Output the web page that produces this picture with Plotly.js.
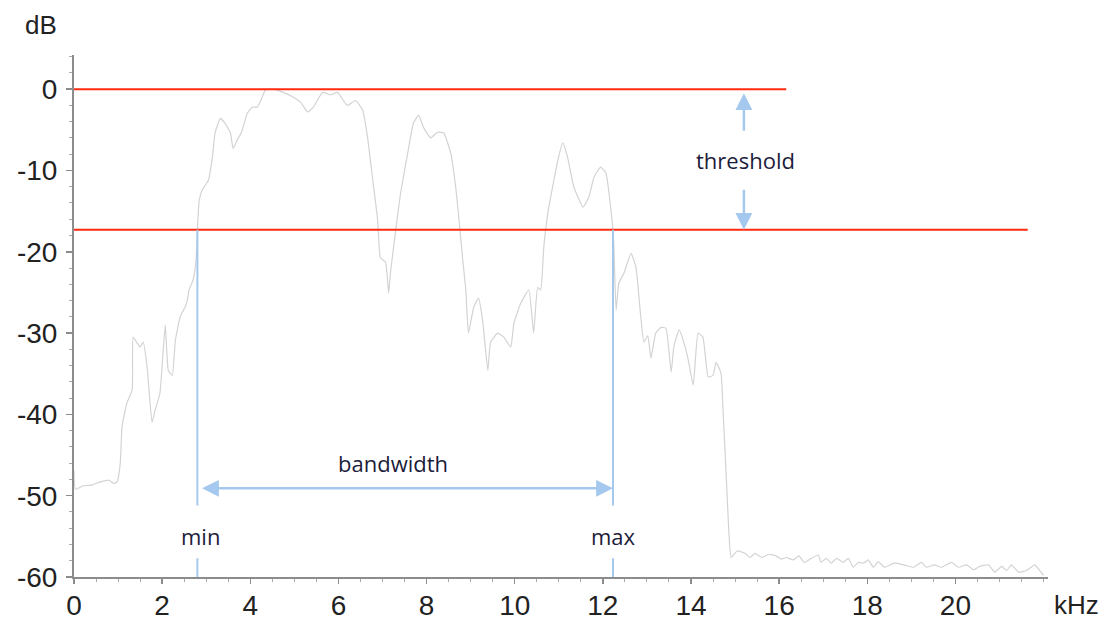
<!DOCTYPE html>
<html>
<head>
<meta charset="utf-8">
<script src="https://cdn.plot.ly/plotly-3.0.1.min.js"></script>
<style>
html,body{margin:0;padding:0;background:#fff;}
#chart{width:1107px;height:623px;}
</style>
</head>
<body>
<div id="chart"></div>
<script>
// ---- data ----
const freqKHz = [0.00,0.03,0.2,0.4,0.6,0.8,0.9,0.98,1.05,1.09,1.20,1.32,1.34,1.43,1.50,1.57,1.66,1.77,1.84,1.95,
  2.07,2.14,2.23,2.30,2.41,2.52,2.57,2.61,2.70,2.77,2.80,2.84,2.91,2.98,3.05,3.14,3.20,3.32,3.43,3.55,
  3.61,3.70,3.80,3.93,4.05,4.16,4.27,4.34,4.52,4.75,4.98,5.14,5.30,5.43,5.64,5.82,5.98,6.20,6.39,6.55,
  6.66,6.77,6.89,6.95,7.07,7.14,7.18,7.30,7.41,7.57,7.70,7.82,7.93,8.09,8.25,8.39,8.55,8.66,8.73,8.82,
  8.89,8.95,9.07,9.18,9.27,9.39,9.45,9.61,9.75,9.91,9.98,10.14,10.32,10.43,10.52,10.59,10.66,10.75,10.86,10.98,
  11.09,11.20,11.34,11.55,11.68,11.80,11.95,12.07,12.14,12.23,12.25,12.30,12.36,12.48,12.64,12.75,12.86,12.93,13.02,13.09,
  13.20,13.32,13.43,13.55,13.61,13.73,13.84,13.93,14.05,14.16,14.27,14.39,14.50,14.57,14.68,14.73,14.80,14.86,14.91,15.05,
  15.23,15.34,15.45,15.61,15.77,15.93,16.05,16.16,16.32,16.45,16.57,16.73,16.89,16.95,17.07,17.18,17.30,17.45,17.57,17.68,
  17.80,17.91,18.02,18.14,18.25,18.39,18.61,18.82,19.05,19.23,19.34,19.52,19.68,19.91,20.07,20.25,20.41,20.55,20.75,20.89,
  21.05,21.16,21.27,21.43,21.61,21.80,21.91,22.00];
const levelDB = [-46.9,-49.2,-48.8,-48.7,-48.3,-48.1,-48.5,-48.3,-46.0,-41.5,-38.6,-37.0,-30.5,-31.2,-31.7,-31.1,-34.2,-41.0,-39.5,-37.4,
  -29.0,-34.6,-35.2,-30.9,-28.0,-26.8,-26.0,-24.7,-23.5,-21.0,-17.3,-13.7,-12.4,-11.8,-11.2,-8.4,-5.4,-3.6,-4.2,-5.4,
  -7.3,-6.3,-5.3,-3.0,-2.2,-2.2,-1.0,-0.1,0.0,-0.4,-1.0,-1.6,-2.8,-2.2,-0.4,-0.7,-0.4,-2.0,-1.4,-2.6,
  -5.9,-10.8,-16.1,-20.7,-21.3,-25.1,-22.6,-17.3,-12.8,-7.9,-4.2,-3.2,-4.7,-6.0,-5.3,-5.4,-7.9,-12.0,-15.7,-21.0,
  -24.7,-30.0,-26.8,-25.7,-28.4,-34.6,-31.2,-30.0,-30.5,-31.7,-28.8,-26.3,-24.7,-30.0,-24.4,-24.7,-19.4,-15.3,-12.0,-8.7,
  -6.6,-8.4,-12.0,-14.5,-13.3,-10.8,-9.6,-10.3,-12.8,-17.3,-19.4,-27.2,-23.9,-22.6,-20.2,-21.9,-28.0,-31.1,-30.3,-33.1,
  -30.0,-29.3,-29.4,-34.8,-31.7,-29.6,-31.2,-33.1,-36.4,-30.0,-30.5,-35.4,-35.2,-33.6,-34.9,-39.9,-47.7,-54.6,-57.6,-56.8,
  -57.1,-57.6,-57.1,-57.6,-57.2,-57.4,-57.8,-57.6,-57.9,-57.4,-58.2,-57.7,-57.3,-58.2,-57.7,-58.3,-57.7,-58.2,-57.7,-58.8,
  -58.2,-58.3,-57.9,-58.8,-58.1,-58.8,-58.3,-58.5,-58.8,-58.2,-58.8,-58.5,-58.8,-58.2,-58.8,-58.5,-59.1,-58.7,-58.5,-59.4,
  -58.7,-59.2,-58.5,-59.4,-59.2,-58.5,-59.2,-59.8];

const xTickVals = [0,2,4,6,8,10,12,14,16,18,20];
const xTickLabels = ['0','2','4','6','8','10','12','14','16','18','20'];
const yTickVals = [-60,-50,-40,-30,-20,-10,0];
const yTickLabels = ['-60','-50','-40','-30','-20','-10','0'];

const peakLevel = 0;          // dB, upper red line
const thresholdLevel = -17.3; // dB, lower red line
const peakLineEnd = 16.16;    // kHz
const thresholdLineEnd = 21.64;
const minFreq = 2.8;          // kHz
const maxFreq = 12.23;        // kHz
const thresholdArrowX = 15.2; // kHz
const bandwidthArrowY = -49.1;

// ---- styles ----
const RED = '#ff2a10';
const BLUE = '#a5c8ee';
const GREY = '#8c8c8c';
const TXT = '#1c1c3a';
const tickFont = {family:'Liberation Sans, Arial, sans-serif', size:28, color:'#222'};
const noteFont = {family:'Open Sans, sans-serif', size:22, color:TXT};

const trace = {
  x: freqKHz, y: levelDB, type:'scatter', mode:'lines',
  line:{color:'#d3d3d3', width:1.2, shape:'spline', smoothing:0.4}, hoverinfo:'skip'
};

const shapes = [
  {type:'line', xref:'x', yref:'y', x0:0, x1:peakLineEnd, y0:peakLevel, y1:peakLevel, line:{color:RED, width:2}},
  {type:'line', xref:'x', yref:'y', x0:0, x1:thresholdLineEnd, y0:thresholdLevel, y1:thresholdLevel, line:{color:RED, width:2}},
  {type:'line', xref:'x', yref:'y', x0:minFreq, x1:minFreq, y0:thresholdLevel, y1:-51.2, line:{color:BLUE, width:2}},
  {type:'line', xref:'x', yref:'y', x0:minFreq, x1:minFreq, y0:-57.7, y1:-60, line:{color:BLUE, width:2}},
  {type:'line', xref:'x', yref:'y', x0:maxFreq, x1:maxFreq, y0:thresholdLevel, y1:-51.2, line:{color:BLUE, width:2}},
  {type:'line', xref:'x', yref:'y', x0:maxFreq, x1:maxFreq, y0:-57.7, y1:-60, line:{color:BLUE, width:2}}
];

const arrowBase = {text:'', showarrow:true, xref:'x', yref:'y', axref:'x', ayref:'y',
  arrowcolor:BLUE, arrowwidth:2.5, arrowhead:2, arrowsize:1.35, standoff:0, startstandoff:0};

const annotations = [
  Object.assign({}, arrowBase, {x:maxFreq, y:bandwidthArrowY, ax:minFreq+0.07, ay:bandwidthArrowY,
     arrowside:'end+start', startarrowhead:2, startarrowsize:1.35}),
  Object.assign({}, arrowBase, {x:thresholdArrowX, y:-0.5, ax:thresholdArrowX, ay:-5.3}),
  Object.assign({}, arrowBase, {x:thresholdArrowX, y:thresholdLevel, ax:thresholdArrowX, ay:-12.2}),
  {text:'threshold', x:thresholdArrowX+0.03, y:-8.7, xref:'x', yref:'y', showarrow:false, font:noteFont},
  {text:'bandwidth', x:7.23, y:-46.0, xref:'x', yref:'y', showarrow:false, font:noteFont},
  {text:'min', x:2.87, y:-55.0, xref:'x', yref:'y', showarrow:false, font:noteFont},
  {text:'max', x:maxFreq, y:-55.0, xref:'x', yref:'y', showarrow:false, font:noteFont},
  {text:'dB', xref:'paper', yref:'paper', x:0, y:1, xanchor:'center', yanchor:'middle',
     xshift:-33, yshift:30, showarrow:false, font:{family:tickFont.family, size:26, color:'#222'}},
  {text:'kHz', xref:'paper', yref:'paper', x:1, y:0, xanchor:'center', yanchor:'middle',
     xshift:28, yshift:-28, showarrow:false, font:{family:tickFont.family, size:26, color:'#222'}}
];

const layout = {
  width:1107, height:623,
  margin:{l:74, r:59, t:55, b:46, pad:0},
  paper_bgcolor:'#fff', plot_bgcolor:'#fff',
  showlegend:false,
  xaxis:{range:[0,22.1], tickmode:'array', tickvals:xTickVals, ticktext:xTickLabels,
    showgrid:false, zeroline:false, showline:true, linecolor:GREY, linewidth:2,
    ticks:'outside', ticklen:5, tickwidth:1.5, tickcolor:GREY, tickfont:tickFont, ticklabelstandoff:-3,
    minor:{dtick:0.5, ticks:'outside', ticklen:3, tickwidth:1, tickcolor:'#aaa', showgrid:false}},
  yaxis:{range:[-60,4.2], tickmode:'array', tickvals:yTickVals, ticktext:yTickLabels,
    showgrid:false, zeroline:false, showline:true, linecolor:GREY, linewidth:2,
    ticks:'outside', ticklen:6, tickwidth:1.5, tickcolor:GREY, tickfont:tickFont, ticklabelstandoff:3,
    minor:{dtick:2, ticks:'outside', ticklen:3, tickwidth:1, tickcolor:'#aaa', showgrid:false}},
  shapes:shapes, annotations:annotations
};

Plotly.newPlot('chart', [trace], layout, {staticPlot:true, displayModeBar:false});
</script>
</body>
</html>
